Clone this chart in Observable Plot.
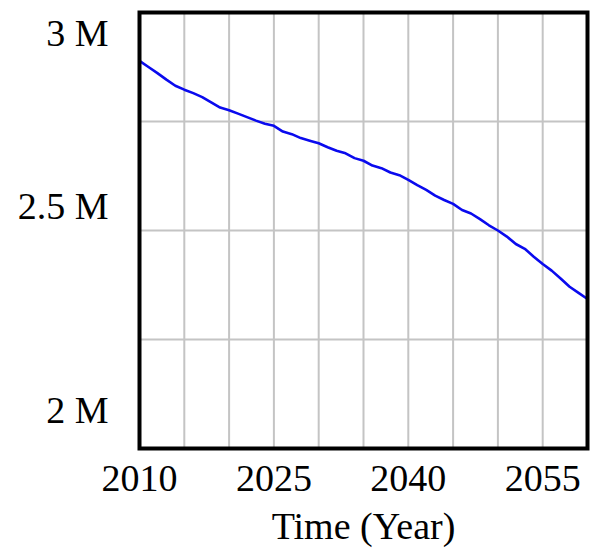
<!DOCTYPE html>
<html>
<head>
<meta charset="utf-8">
<script src="https://cdn.jsdelivr.net/npm/d3@7"></script>
<script src="https://cdn.jsdelivr.net/npm/@observablehq/plot@0.6"></script>
<style>
  html, body { margin: 0; padding: 0; background: #fff; }
  #chart svg { display: block; }
</style>
</head>
<body>
<div id="chart"></div>
<script>
// Simulated population, one value per year
const years = d3.range(2010, 2061);
const population = [
  2889000, 2875000, 2861000, 2846000, 2832000, 2823000, 2815000, 2806000, 2794000, 2782000,
  2776000, 2768000, 2760000, 2752000, 2745000, 2740000, 2727000, 2721000, 2712000, 2706000,
  2700000, 2691000, 2683000, 2677000, 2666000, 2660000, 2649000, 2643000, 2633000, 2627000,
  2616000, 2604000, 2593000, 2580000, 2570000, 2561000, 2547000, 2539000, 2526000, 2512000,
  2500000, 2486000, 2469000, 2458000, 2440000, 2423000, 2408000, 2390000, 2371000, 2357000,
  2343000
];

// Axis ticks
const xGridTicks = d3.range(2010, 2061, 5);
const xLabelTicks = [2010, 2025, 2040, 2055];
const yGridTicks = [2000000, 2250000, 2500000, 2750000, 3000000];
// y labels sit nudged inside the frame at the ends
const yLabels = [
  {value: 3000000, dy: 21},
  {value: 2500000, dy: -24},
  {value: 2000000, dy: -38}
];

const rows = years.map((year, i) => ({year, population: population[i]}));
const fmtM = d => `${d / 1e6} M`;

const font = "Liberation Serif, Times New Roman, serif";
const fs = 38;

const chart = Plot.plot({
  width: 605,
  height: 549,
  marginLeft: 139,
  marginRight: 18,
  marginTop: 12,
  marginBottom: 101,
  style: {fontFamily: font, fontSize: `${fs}px`, color: "black", background: "white"},
  x: {domain: [2010, 2060]},
  y: {domain: [2000000, 3000000]},
  marks: [
    Plot.gridX(xGridTicks, {stroke: "#c4c4c4", strokeOpacity: 1, strokeWidth: 2}),
    Plot.gridY(yGridTicks, {stroke: "#c4c4c4", strokeOpacity: 1, strokeWidth: 2}),
    Plot.axisX(xLabelTicks, {
      tickSize: 0, tickPadding: 16, tickFormat: d => String(d),
      label: null, fontSize: fs, fill: "black"
    }),
    ...yLabels.map(t => Plot.axisY([t.value], {
      tickSize: 0, tickPadding: 31, tickFormat: fmtM,
      label: null, fontSize: fs, fill: "black", dy: t.dy
    })),
    Plot.text(["Time (Year)"], {
      frameAnchor: "bottom", dy: 78, lineAnchor: "middle",
      fontSize: fs, fill: "black", text: d => d
    }),
    Plot.line(rows, {x: "year", y: "population", stroke: "#0a0aee", strokeWidth: 2.6}),
    Plot.frame({stroke: "black", strokeWidth: 4})
  ]
});

document.getElementById("chart").append(chart);
</script>
</body>
</html>
